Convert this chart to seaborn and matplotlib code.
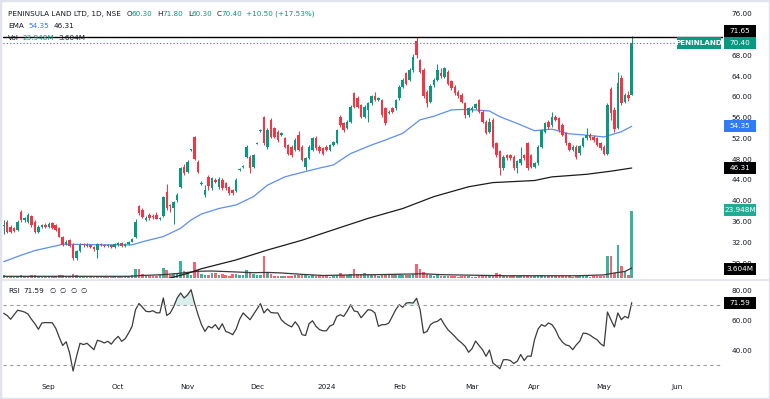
import numpy as np
import pandas as pd
import matplotlib
matplotlib.use("Agg")
import matplotlib.pyplot as plt
from matplotlib.patches import Rectangle
from matplotlib.lines import Line2D
from matplotlib.transforms import IdentityTransform
import seaborn as sns

# ---------------- data ----------------
holidays = ["2023-08-15", "2023-09-19", "2023-10-02", "2023-10-24", "2023-11-14",
            "2023-11-27", "2023-12-25", "2024-01-22", "2024-01-26", "2024-03-08",
            "2024-03-25", "2024-03-29", "2024-04-11", "2024-04-17", "2024-05-01",
            "2024-05-20"]

opens = [35.2, 36.0, 35.0, 34.7, 34.4, 37.9, 36.3, 36.0, 37.0, 36.0,
         34.0, 35.0, 35.4, 35.0, 35.7, 35.3, 34.7, 33.1, 31.6, 32.4,
         31.5, 29.0, 30.4, 31.6, 31.2, 31.5, 31.1, 30.6, 31.7, 31.5,
         31.2, 31.5, 31.0, 31.5, 31.9, 31.3, 31.7, 32.1, 33.0, 38.9,
         38.3, 36.3, 37.3, 37.1, 37.2, 36.4, 37.1, 41.7, 39.2, 38.6,
         40.1, 42.7, 46.6, 45.6, 49.7, 52.3, 47.5, 43.3, 41.1, 44.6,
         42.4, 44.0, 42.6, 44.0, 43.4, 42.7, 42.0, 41.8, 45.9, 46.5,
         48.5, 48.5, 46.6, 51.0, 53.5, 56.2, 50.4, 55.6, 54.0, 53.3,
         52.7, 52.0, 50.75, 50.4, 49.8, 52.7, 50.4, 46.6, 48.2, 49.8,
         52.0, 50.4, 50.1, 50.4, 49.8, 50.75, 51.1, 56.2, 54.9, 54.0,
         55.2, 60.7, 59.75, 58.4, 56.2, 57.5, 58.8, 60.1, 59.5, 59.4,
         57.8, 57.0, 57.8, 57.8, 59.75, 62.0, 64.6, 63.3, 65.2, 70.8,
         67.1, 65.2, 61.0, 59.1, 62.3, 63.3, 64.6, 63.9, 64.9, 63.0,
         62.0, 61.0, 60.4, 58.8, 56.5, 57.5, 57.9, 59.4, 57.2, 55.2,
         53.3, 55.6, 51.1, 49.5, 46.3, 48.8, 48.8, 48.5, 46.3, 47.2,
         48.8, 51.1, 48.8, 46.6, 47.2, 50.4, 53.3, 55.2, 54.6, 56.2,
         55.9, 54.6, 53.0, 51.1, 49.8, 50.4, 49.2, 50.6, 52.0, 52.7,
         52.3, 52.0, 51.1, 50.4, 49.1, 61.5, 57.5, 54.0, 63.6, 59.1,
         60.4, 60.3]
highs = [36.2, 36.3, 35.3, 35.0, 36.3, 38.2, 36.9, 37.6, 37.3, 36.3,
         35.3, 35.6, 35.7, 35.9, 36.0, 35.5, 34.9, 33.3, 32.4, 32.7,
         31.8, 30.6, 31.8, 31.9, 31.8, 31.7, 31.3, 31.8, 31.9, 31.7,
         31.7, 31.6, 31.8, 32.1, 32.0, 31.8, 32.3, 32.9, 36.5, 39.2,
         38.6, 37.0, 37.6, 37.4, 37.8, 36.9, 41.0, 43.3, 39.4, 40.0,
         41.4, 46.6, 47.0, 47.8, 50.0, 52.5, 47.8, 43.8, 43.0, 44.9,
         44.6, 44.3, 44.5, 44.4, 43.7, 42.9, 42.3, 44.3, 46.3, 46.9,
         50.7, 48.8, 49.0, 51.3, 53.9, 56.4, 54.0, 55.9, 54.3, 53.6,
         53.2, 52.3, 51.0, 50.7, 52.0, 53.5, 50.7, 48.5, 50.7, 52.3,
         52.4, 50.7, 50.4, 50.7, 51.0, 51.6, 53.9, 56.6, 55.2, 55.5,
         58.4, 61.0, 60.1, 58.7, 58.4, 59.1, 60.4, 61.0, 60.0, 59.7,
         58.1, 57.4, 58.1, 59.7, 62.3, 63.6, 64.9, 65.5, 68.2, 71.65,
         67.4, 65.5, 61.3, 62.5, 63.6, 66.4, 65.5, 65.8, 65.2, 63.3,
         62.3, 61.3, 60.7, 59.1, 58.1, 58.2, 58.9, 59.7, 57.5, 55.5,
         55.9, 55.9, 51.4, 49.8, 48.8, 49.1, 49.1, 48.8, 47.9, 50.4,
         49.1, 51.4, 49.1, 47.5, 50.7, 53.9, 55.2, 55.5, 57.2, 56.5,
         56.2, 54.9, 53.3, 51.4, 50.7, 50.7, 50.8, 52.3, 54.0, 53.0,
         52.6, 52.3, 51.4, 50.7, 58.8, 62.0, 58.1, 64.9, 64.2, 60.8,
         61.2, 71.8]
lows = [33.5, 33.8, 33.8, 34.0, 34.2, 36.0, 36.0, 35.8, 35.0, 33.7,
        33.8, 34.8, 34.8, 34.8, 34.5, 34.2, 33.0, 31.3, 31.4, 31.0,
        28.6, 28.6, 30.2, 31.1, 31.0, 30.9, 30.4, 29.0, 31.2, 31.0,
        31.0, 30.9, 30.8, 31.3, 31.1, 31.1, 31.5, 32.0, 32.9, 37.3,
        36.6, 36.1, 36.3, 36.5, 36.4, 36.2, 36.9, 38.2, 37.9, 35.6,
        39.8, 42.4, 44.9, 45.3, 49.6, 47.8, 45.3, 43.1, 40.8, 42.1,
        42.1, 43.5, 42.3, 42.1, 42.1, 41.2, 41.2, 41.6, 45.7, 46.3,
        48.3, 45.3, 46.3, 50.9, 53.3, 50.8, 50.0, 52.0, 52.0, 51.4,
        52.4, 50.1, 48.8, 48.5, 49.5, 49.5, 47.6, 46.0, 48.0, 49.5,
        49.8, 49.2, 48.8, 49.5, 49.6, 50.5, 50.9, 54.3, 53.3, 53.8,
        55.0, 57.8, 57.8, 55.9, 55.9, 55.2, 58.5, 59.2, 59.3, 56.2,
        54.6, 56.8, 57.0, 57.5, 59.5, 61.8, 62.3, 63.0, 64.9, 67.5,
        64.6, 59.8, 58.1, 58.8, 62.0, 63.0, 63.7, 63.6, 62.3, 61.4,
        60.4, 59.8, 58.8, 56.0, 56.2, 57.2, 57.6, 56.9, 54.9, 52.8,
        53.0, 50.1, 48.5, 45.0, 46.0, 47.9, 47.9, 46.0, 45.3, 46.9,
        47.9, 46.0, 46.3, 46.3, 46.9, 50.1, 53.0, 53.9, 54.3, 55.3,
        53.3, 52.4, 50.8, 49.5, 49.5, 48.0, 48.9, 50.3, 51.7, 51.7,
        51.4, 50.5, 49.8, 48.8, 48.9, 55.6, 53.3, 53.8, 58.5, 58.8,
        59.3, 60.3]
closes = [35.4, 34.0, 34.0, 34.2, 36.0, 36.3, 36.6, 37.25, 35.3, 34.0,
          35.0, 35.3, 35.0, 35.6, 34.7, 34.4, 33.1, 31.5, 32.1, 31.2,
          29.0, 30.3, 31.5, 31.4, 31.5, 31.1, 30.7, 31.6, 31.5, 31.3,
          31.5, 31.1, 31.6, 31.9, 31.3, 31.6, 32.1, 32.7, 36.0, 37.6,
          36.9, 36.7, 36.6, 36.8, 36.5, 36.6, 40.8, 38.6, 38.9, 39.7,
          41.1, 46.3, 45.3, 47.5, 49.9, 48.0, 45.6, 43.5, 42.0, 42.8,
          44.3, 43.7, 44.2, 42.4, 42.4, 41.4, 41.5, 44.0, 46.1, 46.7,
          50.4, 46.3, 48.8, 51.2, 53.7, 51.1, 53.6, 52.3, 52.3, 51.7,
          53.0, 50.4, 49.1, 48.8, 51.7, 49.8, 47.9, 48.2, 50.4, 52.0,
          50.1, 49.5, 49.1, 49.8, 50.75, 51.4, 53.6, 54.6, 53.6, 55.2,
          58.1, 58.1, 58.1, 56.2, 58.1, 58.8, 60.1, 59.5, 59.75, 56.5,
          54.9, 57.2, 57.2, 59.4, 62.0, 63.3, 62.6, 65.2, 67.8, 68.0,
          64.9, 60.1, 58.8, 62.2, 63.3, 65.2, 64.0, 65.5, 62.6, 61.7,
          60.7, 60.1, 59.1, 56.5, 57.8, 57.9, 58.6, 57.2, 55.2, 53.1,
          55.2, 50.4, 48.8, 46.3, 48.5, 48.2, 48.2, 46.3, 47.6, 48.0,
          48.2, 46.3, 46.6, 47.2, 50.4, 53.6, 54.9, 54.2, 56.2, 55.6,
          53.6, 52.7, 51.1, 49.8, 50.4, 48.5, 50.5, 52.0, 52.7, 52.0,
          51.7, 50.75, 50.1, 49.1, 58.5, 57.0, 53.8, 62.7, 58.8, 60.3,
          59.9, 70.4]

volume_m = [0.9, 0.7, 0.6, 0.5, 0.8, 1.2, 0.6, 0.7, 0.9, 1.0,
            0.6, 0.5, 0.5, 0.6, 0.7, 0.6, 0.9, 1.0, 0.6, 0.8,
            1.3, 1.0, 0.7, 0.5, 0.5, 0.4, 0.5, 0.6, 0.8, 0.5,
            0.4, 0.5, 0.6, 0.5, 0.5, 0.6, 0.7, 1.1, 3.1, 3.2,
            1.3, 0.8, 0.7, 0.6, 0.6, 0.9, 3.6, 3.0, 1.2, 1.6,
            1.5, 6.0, 2.5, 2.2, 1.0, 5.8, 2.9, 1.5, 1.2, 1.1,
            1.8, 1.7, 0.9, 1.6, 1.0, 0.8, 1.4, 1.3, 1.1, 0.9,
            2.8, 2.2, 1.3, 0.9, 1.2, 7.9, 1.9, 1.4, 0.8, 0.7,
            0.6, 0.7, 0.8, 0.7, 0.9, 1.0, 1.1, 1.2, 0.8, 0.9,
            0.7, 0.6, 0.6, 0.7, 0.5, 0.6, 1.0, 1.9, 1.0, 0.9,
            1.5, 3.1, 1.3, 1.3, 1.9, 1.6, 1.1, 0.9, 0.7, 1.0,
            1.2, 1.3, 1.3, 1.4, 1.3, 1.0, 1.2, 1.1, 1.6, 5.1,
            3.3, 2.0, 1.4, 0.9, 0.8, 0.9, 0.7, 0.6, 0.7, 0.6,
            0.6, 0.5, 0.7, 0.8, 0.6, 0.5, 0.5, 0.6, 0.9, 1.1,
            0.6, 1.2, 1.7, 1.3, 0.8, 0.6, 0.7, 0.9, 0.8, 1.1,
            1.0, 1.1, 0.7, 0.6, 0.9, 1.0, 0.8, 0.7, 0.9, 0.6,
            0.7, 0.8, 0.6, 0.7, 0.5, 0.8, 0.6, 0.6, 0.8, 0.5,
            0.6, 0.6, 0.7, 0.8, 7.9, 7.8, 1.7, 11.9, 4.3, 2.5,
            1.1, 23.948]

vol_ma_idx = [0, 20, 36, 40, 46, 50, 56, 60, 66, 72, 76, 80, 86, 92, 100, 108,
              116, 121, 126, 135, 145, 155, 165, 173, 176, 179, 181]
vol_ma_m = [0.6, 0.6, 0.6, 0.9, 1.2, 1.6, 2.4, 2.5, 2.2, 1.9, 2.0, 1.8, 1.3, 0.9,
            1.1, 1.2, 1.4, 1.5, 1.2, 1.0, 0.8, 0.8, 0.8, 1.1, 1.8, 2.3, 3.604]

ema50_idx = [0, 5, 9, 14, 17, 20, 28, 37, 40, 46, 51, 54, 57, 62, 67, 72, 76, 81,
             85, 91, 95, 100, 106, 110, 115, 120, 124, 129, 132, 136, 140, 143,
             148, 153, 158, 163, 167, 173, 175, 178, 181]
ema50 = [28.25, 29.5, 30.4, 31.15, 31.6, 31.6, 31.5, 31.5, 32.1, 33.1, 34.7, 36.3,
         37.45, 38.5, 39.2, 40.8, 43.0, 44.6, 45.3, 46.3, 46.9, 49.1, 50.75, 51.7,
         53.0, 55.6, 56.3, 57.5, 57.6, 57.5, 57.3, 56.2, 54.9, 53.5, 53.8, 52.9,
         52.7, 52.3, 52.7, 53.3, 54.35]

ema200_idx = [44, 48, 53, 57, 67, 76, 86, 95, 105, 115, 124, 134, 141, 153, 158,
              168, 175, 181]
ema200 = [24.5, 25.1, 26.0, 26.9, 28.6, 30.5, 32.4, 34.4, 36.6, 38.5, 40.8, 42.7,
          43.5, 43.9, 44.6, 45.1, 45.7, 46.31]

rsi = [64.5, 63, 60.5, 63.5, 66.5, 66, 65.3, 64, 60.5, 57.5,
       53.8, 58, 58.3, 58.2, 58.2, 54.5, 48.5, 43, 45.5, 38,
       26, 35.8, 44.5, 43.6, 44.5, 42.3, 40.2, 46.5, 45.8, 44.7,
       45.8, 43.9, 46.9, 49.1, 45.8, 47.5, 51.3, 55.8, 66.9, 71.0,
       68.5, 65.8, 65.5, 66.2, 64.8, 64.8, 74.7, 63, 64.7, 69,
       74.7, 78, 74.7, 76.8, 80.2, 71.3, 63.6, 56.9, 52.4, 55.8,
       54.7, 56.9, 53.6, 57.5, 52.4, 51.5, 50.2, 54, 60.5, 64.7,
       62.4, 60.2, 63.8, 67.4, 70.9, 64.7, 67.4, 65, 64.7, 64.7,
       60.2, 58, 56.5, 55.4, 58.8, 55.8, 50.2, 49.7, 57.5, 59.5,
       55.8, 53.6, 52.8, 52.8, 56, 57, 62.4, 63.5, 62.4, 66,
       70.2, 66, 65.5, 61.5, 64.2, 66.9, 66.5, 64.7, 55.8, 56.9,
       56.9, 58, 62.4, 66.9, 70.2, 68.5, 71.3, 71.6, 71.3, 74.5,
       66.9, 51.3, 52.4, 56.9, 58.5, 59.1, 60.9, 56.9, 53.6, 51.3,
       49.1, 46.5, 44.7, 42.4, 38.5, 41, 46, 43, 40.2, 35.8,
       40, 31.3, 29.5, 27.5, 33.5, 33.6, 33, 31, 32.5, 37,
       33, 36, 35.8, 47, 54, 56.9, 55.8, 58, 56.9, 53.6,
       48.5, 45.3, 43.4, 42.8, 40.2, 43.4, 45.8, 51.3, 51, 49.9,
       48.2, 46.9, 44.2, 42.6, 65.3, 60.2, 55.3, 64.7, 60.2, 62.4,
       61.3, 71.59]

# 72.00 sits under the 71.65 tag in the reference, so it is not listed
price_ticks = [28, 32, 36, 40, 44, 48, 52, 56, 60, 64, 68, 76]
rsi_ticks = [40, 60, 80]
hline_level = 71.65
last_close = 70.40

# ---------------- style ----------------
UP, DOWN = "#089981", "#f23645"
VUP, VDOWN = "#22ab94", "#f7525f"
TXT = "#131722"
BLUE_LINE, BLUE_TAG = "#5b8ff0", "#2f7cf6"
FS = 5.2

sns.set_theme(style="white")
plt.rcParams["font.family"] = ["DejaVu Sans"]

W, H = 770, 399
fig = plt.figure(figsize=(W / 100, H / 100), dpi=100)


def rect(x0, y0, x1, y1):
    return [x0 / W, 1 - y1 / H, (x1 - x0) / W, (y1 - y0) / H]


ax_vol = fig.add_axes(rect(3, 2, 723, 278))
ax = fig.add_axes(rect(3, 2, 723, 278), sharex=ax_vol)
ax_rsi = fig.add_axes(rect(3, 281, 723, 376), sharex=ax_vol)
ax.patch.set_visible(False)

x = np.arange(len(closes))
o, h, l, c = map(np.array, (opens, highs, lows, closes))
up = c >= o
col = np.where(up, UP, DOWN)

# volume (overlay at the bottom of the price pane)
ax_vol.bar(x, volume_m, width=0.75, color=np.where(up, VUP, VDOWN), lw=0, alpha=0.9)
sns.lineplot(x=vol_ma_idx, y=vol_ma_m, ax=ax_vol, color="#3a3a3a", lw=0.9, legend=False)
ax_vol.set_ylim(0, 98.6)

# candles
ax.vlines(x, l, h, colors=col, lw=0.75, zorder=3)
ax.bar(x, np.maximum(np.abs(c - o), 0.12), bottom=np.minimum(o, c), width=0.72,
       color=col, lw=0, zorder=4)

# moving averages
sns.lineplot(x=ema50_idx, y=ema50, ax=ax, color=BLUE_LINE, lw=0.9, legend=False, zorder=2)
sns.lineplot(x=ema200_idx, y=ema200, ax=ax, color="#1c1c1c", lw=0.9, legend=False, zorder=2)

ax.axhline(hline_level, color="black", lw=1.0, zorder=5)
ax.axhline(last_close, xmax=0.935, color=UP, lw=0.8, ls=(0, (1, 2)), zorder=5)

ax.set_xlim(-0.2, 207.3)
ax.set_ylim(25.11, 78.31)
ax.yaxis.tick_right()
ax.set_yticks(price_ticks)
ax.set_yticklabels([f"{v:.2f}" for v in price_ticks])
ax.tick_params(axis="y", length=0, pad=6, labelsize=FS, colors=TXT)

# RSI pane
r = np.array(rsi)
sns.lineplot(x=x, y=r, ax=ax_rsi, color="#3b3b3b", lw=0.9, legend=False)
ax_rsi.fill_between(x, 70, r, where=r > 70, interpolate=True, color=UP, alpha=0.15, lw=0)
for lvl in (70, 30):
    ax_rsi.axhline(lvl, color="#9a9ca3", lw=0.8, ls=(0, (3, 3)))
ax_rsi.set_ylim(22.67, 86)
ax_rsi.yaxis.tick_right()
ax_rsi.set_yticks(rsi_ticks)
ax_rsi.set_yticklabels([f"{v:.2f}" for v in rsi_ticks])
ax_rsi.tick_params(axis="y", length=0, pad=6, labelsize=FS, colors=TXT)

# month ticks
all_days = pd.bdate_range("2023-08-14", "2024-06-14", freq="C", holidays=holidays)
tick_pos = [i for i in range(1, len(all_days)) if all_days[i].month != all_days[i - 1].month]
tick_lab = ["2024" if all_days[i].month == 1 else all_days[i].strftime("%b") for i in tick_pos]
ax_rsi.set_xticks(tick_pos)
ax_rsi.set_xticklabels(tick_lab)
ax_rsi.tick_params(axis="x", length=0, pad=6, labelsize=FS, colors=TXT)

for a in (ax, ax_vol, ax_rsi):
    a.set_xlabel("")
    a.set_ylabel("")
    for s in a.spines.values():
        s.set_visible(False)
for a in (ax, ax_vol):
    a.tick_params(axis="x", bottom=False, labelbottom=False)
ax_vol.tick_params(axis="y", left=False, labelleft=False, right=False, labelright=False)

# ---------------- tags on the price scale ----------------
ident = IdentityTransform()


def tag(axis, value, text, bg, x0=724, x1=756, dy=0, bold=False):
    yd = axis.transData.transform((0, value))[1] + dy
    fig.add_artist(Rectangle((x0, yd - 6), x1 - x0, 12, transform=ident,
                             facecolor=bg, edgecolor="none", zorder=4))
    fig.text((x0 + x1) / 2, yd, text, transform=ident, ha="center", va="center",
             fontsize=FS, color="white", zorder=5,
             fontweight="bold" if bold else "normal")


tag(ax, hline_level, f"{hline_level:.2f}", "black", dy=5.5)
tag(ax, last_close, f"{last_close:.2f}", UP)
tag(ax, last_close, "PENINLAND", UP, x0=677, x1=721, bold=True)
tag(ax, ema50[-1], f"{ema50[-1]:.2f}", BLUE_TAG)
tag(ax, ema200[-1], f"{ema200[-1]:.2f}", "black")
tag(ax_vol, volume_m[-1], f"{volume_m[-1]:.3f}M", VUP, dy=1)
tag(ax_vol, vol_ma_m[-1], f"{vol_ma_m[-1]:.3f}M", "black", dy=-1)
tag(ax_rsi, rsi[-1], f"{rsi[-1]:.2f}", "black")

# ---------------- legend texts, laid out piece by piece ----------------
renderer = fig.canvas.get_renderer()


def put_line(yp, parts, x0=8):
    xp = x0
    for s, color, gap in parts:
        t = fig.text(xp / W, 1 - yp / H, s, ha="left", va="center", fontsize=FS,
                     color=color, zorder=6)
        xp += t.get_window_extent(renderer).width + gap


chg = closes[-1] - closes[-2]
put_line(14, [("PENINSULA LAND LTD, 1D, NSE", TXT, 6),
              ("O", TXT, -0.8), (f"{opens[-1]:.2f}", UP, 5),
              ("H", TXT, -0.8), (f"{highs[-1]:.2f}", UP, 5),
              ("L", TXT, -0.8), (f"{lows[-1]:.2f}", UP, 5),
              ("C", TXT, -0.8), (f"{closes[-1]:.2f}", UP, 4),
              (f"+{chg:.2f} (+{chg / closes[-2] * 100:.2f}%)", UP, 0)])
put_line(26, [("EMA", TXT, 5), (f"{ema50[-1]:.2f}", BLUE_TAG, 4), (f"{ema200[-1]:.2f}", TXT, 0)])
put_line(38, [("Vol", TXT, 4), (f"{volume_m[-1]:.3f}M", UP, 4), (f"{vol_ma_m[-1]:.3f}M", TXT, 0)])
put_line(291, [("RSI", TXT, 4), (f"{rsi[-1]:.2f}", TXT, 5), ("\u2205", TXT, 4), ("\u2205", TXT, 4),
               ("\u2205", TXT, 4), ("\u2205", TXT, 0)])

# frame and pane separator
fig.add_artist(Line2D([0, 1], [1 - 279.5 / H] * 2, transform=fig.transFigure,
                      color="#e0e3eb", lw=1.2))
fig.add_artist(Rectangle((0, 0), 1, 1, transform=fig.transFigure, fill=False,
                         edgecolor="#e0e3eb", lw=2.5))

fig.savefig("out.png", dpi=100)
